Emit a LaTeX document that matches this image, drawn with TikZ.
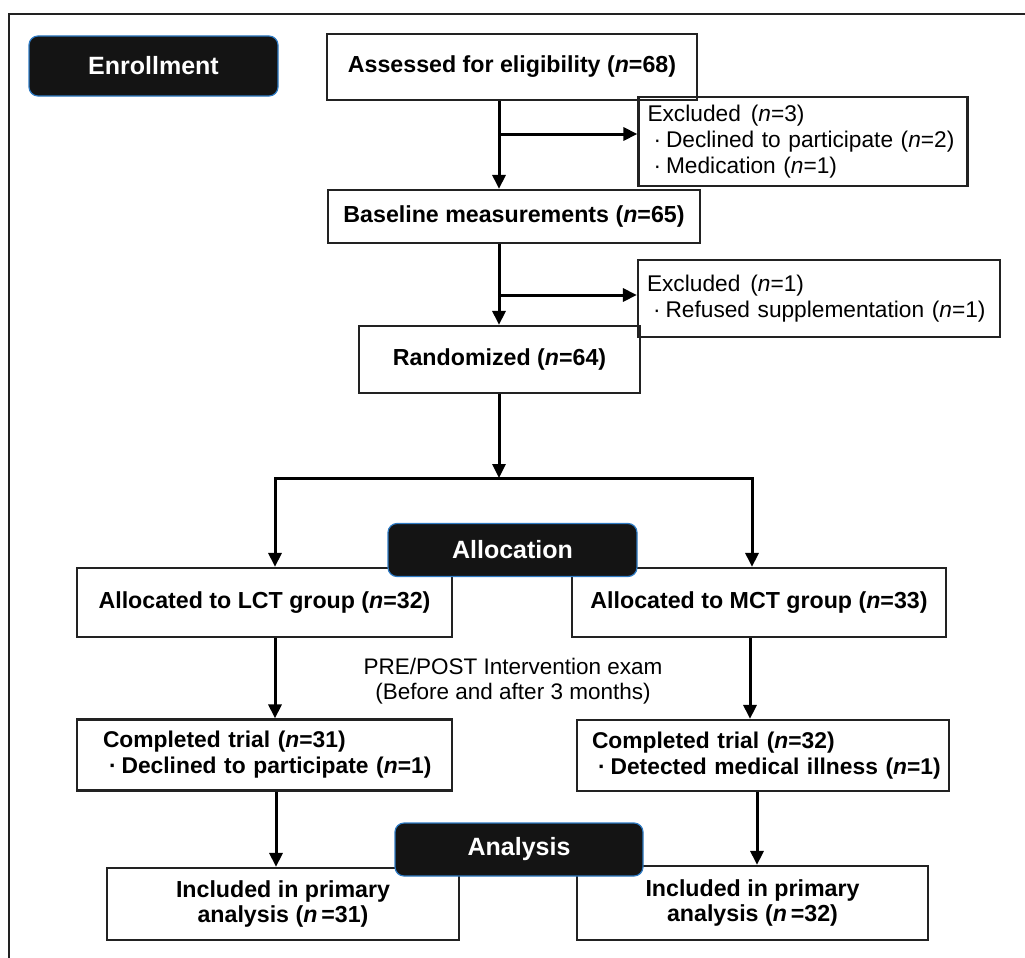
\documentclass[tikz,border=0pt]{standalone}
\usepackage{fontspec}
\setmainfont{Liberation Sans}
\usetikzlibrary{arrows.meta}
\definecolor{labelfill}{HTML}{141414}
\definecolor{labelrim}{HTML}{2F7BC4}
\definecolor{boxline}{HTML}{222222}
\newcommand{\nn}{\textit{n}}
\newcommand{\bul}{\hspace*{6pt}·\hspace{5pt}}
\begin{document}
\begin{tikzpicture}[x=1pt,y=-1pt,
  box/.style={draw=boxline, line width=2.2pt, inner sep=0pt, align=center,
    font=\bfseries\fontsize{23.2}{27}\selectfont},
  sbox/.style={draw=boxline, line width=2.2pt, inner ysep=0pt, align=left,
    font=\fontsize{22.7}{26}\selectfont},
  stage/.style={draw=labelrim, line width=1.2pt, fill=labelfill, text=white,
    rounded corners=9pt, inner sep=0pt, font=\bfseries\fontsize{25}{28}\selectfont},
  arr/.style={draw=black, line width=3pt, -{Triangle[length=14pt,width=13pt]}},
  note/.style={align=center, inner sep=0pt, font=\fontsize{22.5}{25}\selectfont}
]
\useasboundingbox (0,0) rectangle (1025,958);
% frame
\draw[line width=2.4pt, boxline] (1025,14) -- (9,14) -- (9,958);

% boxes
\node[box, minimum width=370, minimum height=66] (assess) at (512,67) {Assessed for eligibility (\nn=68)};
\node[sbox, minimum height=89, text width=311, inner xsep=9] (excl1) at (803,141.5)
  {\mbox{Excluded\hspace{10pt}(\nn=3)}\\\mbox{\bul Declined to participate (\nn=2)}\\\mbox{\bul Medication (\nn=1)}};
\node[box, minimum width=372, minimum height=53] (base) at (514,216.5) {Baseline measurements (\nn=65)};
\node[sbox, minimum height=77, text width=344, inner xsep=9] (excl2) at (819,298.5)
  {\mbox{Excluded\hspace{10pt}(\nn=1)}\\\mbox{\bul Refused supplementation (\nn=1)}};
\node[box, minimum width=281, minimum height=67] (rand) at (499.5,359.5) {Randomized (\nn=64)};
\node[box, minimum width=375, minimum height=69] (lct) at (264.5,602.5) {Allocated to LCT group (\nn=32)};
\node[box, minimum width=374, minimum height=69] (mct) at (759,602.5) {Allocated to MCT group (\nn=33)};
\node[note] (exam) at (513,681) {PRE/POST Intervention exam\\(Before and after 3 months)};
\node[box, align=left, minimum height=71, text width=323, inner xsep=26, font=\bfseries\fontsize{22.8}{26}\selectfont] (comp1) at (264.5,755)
  {\mbox{Completed trial (\nn=31)}\\\mbox{\bul Declined to participate (\nn=1)}};
\node[box, align=left, minimum height=71, text width=342, inner xsep=15, font=\bfseries\fontsize{22.8}{26}\selectfont] (comp2) at (763,755.5)
  {\mbox{Completed trial (\nn=32)}\\\mbox{\bul Detected medical illness (\nn=1)}};
\node[box, minimum width=352, minimum height=72, font=\bfseries\fontsize{23.2}{25}\selectfont] (inc1) at (283,904) {Included in primary\\analysis (\nn\,=31)};
\node[box, minimum width=351, minimum height=74, font=\bfseries\fontsize{23.2}{25}\selectfont] (inc2) at (752.5,903) {Included in primary\\analysis (\nn\,=32)};

% stage labels
\node[stage, minimum width=249, minimum height=60] (enroll) at (153.5,66) {Enrollment};
\node[stage, minimum width=249, minimum height=53] (alloc) at (512.5,550) {Allocation};
\node[stage, minimum width=248, minimum height=53] (anal) at (519,849.5) {Analysis};

% connectors
\coordinate (mx) at (499,0);
\coordinate (b1) at (499,134);
\coordinate (b2) at (499,295);
\coordinate (j) at (499,478);
\coordinate (jl) at (275,478);
\coordinate (jr) at (752,478);
\coordinate (lx) at (275,0);
\coordinate (rx) at (750,0);
\coordinate (lx2) at (276,0);
\coordinate (rx2) at (757,0);

\draw[arr] (assess.south -| mx) -- (base.north -| mx);
\draw[arr] (b1) -- (b1 -| excl1.west);
\draw[arr] (base.south -| mx) -- (rand.north -| mx);
\draw[arr] (b2) -- (b2 -| excl2.west);
\draw[arr] (rand.south -| mx) -- (j);
\draw[arr, {Triangle[length=14pt,width=13pt]}-{Triangle[length=14pt,width=13pt]}]
  (lct.north -| jl) -- (jl) -- (jr) -- (mct.north -| jr);
\draw[arr] (lct.south -| lx) -- (comp1.north -| lx);
\draw[arr] (mct.south -| rx) -- (comp2.north -| rx);
\draw[arr] (comp1.south -| lx2) -- (inc1.north -| lx2);
\draw[arr] (comp2.south -| rx2) -- (inc2.north -| rx2);
\end{tikzpicture}
\end{document}
